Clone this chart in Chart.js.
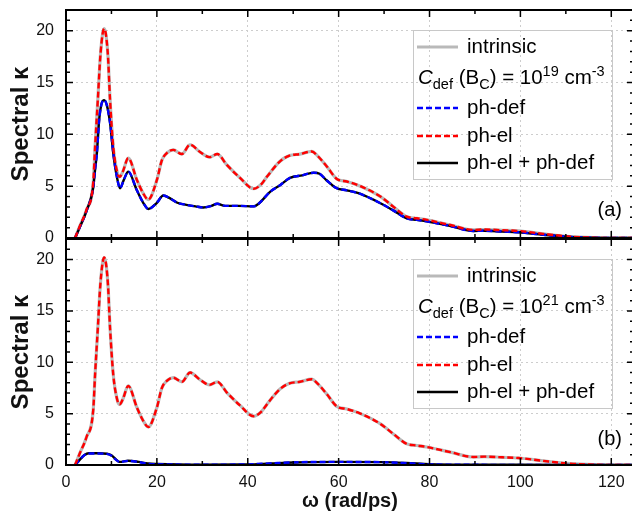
<!DOCTYPE html>
<html><head><meta charset="utf-8">
<script src="https://cdn.jsdelivr.net/npm/chart.js@4/dist/chart.umd.min.js"></script>
<style>
html,body{margin:0;padding:0;background:#fff;overflow:hidden;width:632px;height:517px;}
canvas{position:absolute;left:0;}
#a{top:0}
#b{top:239px}
</style></head><body>
<canvas id="a" width="640" height="252" style="width:640px;height:252px"></canvas>
<canvas id="b" width="640" height="278" style="width:640px;height:278px"></canvas>
<script>
// ---------- data ----------
const xTickValues = [0, 20, 40, 60, 80, 100, 120];
const yTickValues = [0, 5, 10, 15, 20];

// ph-el and intrinsic (identical in both panels)
const omegaEl = [2.0, 3.0, 4.5, 6.0, 6.4, 7.0, 7.6, 8.4, 9.2, 9.7, 10.4, 11.3, 11.8, 12.5, 13.7, 15.6, 17.0, 18.1, 20.0, 21.1, 22.2, 23.6, 25.5, 27.3, 29.5, 31.6, 33.3, 35.4, 38.3, 41.3, 43.0, 44.2, 47.1, 49.2, 51.5, 54.1, 55.2, 57.4, 59.6, 61.8, 64.8, 69.2, 72.1, 75.0, 77.2, 79.4, 84.6, 89.7, 92.0, 96.0, 99.6, 105.0, 111.0, 116.0, 120.0, 125.0];
const kIntrinsic = [0, 1.1, 2.7, 5.4, 8.8, 13.3, 17.8, 20.2, 17.8, 13.3, 8.8, 6.3, 5.9, 6.4, 7.7, 5.6, 4.3, 3.7, 5.6, 7.5, 8.2, 8.5, 8.1, 9.0, 8.3, 7.8, 8.1, 7.05, 5.8, 4.75, 5.2, 5.9, 7.4, 7.95, 8.1, 8.35, 8.0, 6.9, 5.7, 5.45, 5.0, 4.0, 3.0, 2.06, 1.9, 1.75, 1.25, 0.78, 0.82, 0.75, 0.68, 0.4, 0.13, 0.03, 0, 0];
const kPhEl = [0, 1.1, 2.7, 5.4, 8.8, 13.3, 17.8, 20.2, 17.8, 13.3, 8.8, 6.3, 5.9, 6.4, 7.7, 5.6, 4.3, 3.7, 5.6, 7.5, 8.2, 8.5, 8.1, 9.0, 8.3, 7.8, 8.1, 7.05, 5.8, 4.75, 5.2, 5.9, 7.4, 7.95, 8.1, 8.35, 8.0, 6.9, 5.7, 5.45, 5.0, 4.0, 3.0, 2.06, 1.9, 1.75, 1.25, 0.78, 0.82, 0.75, 0.68, 0.4, 0.13, 0.03, 0, 0];

// panel (a): C_def = 1e19
const omegaA = [2.0, 3.0, 4.5, 6.0, 6.4, 6.8, 7.3, 7.8, 8.4, 9.0, 9.7, 10.4, 11.2, 11.9, 12.8, 13.7, 15.6, 17.0, 18.1, 20.0, 21.4, 23.0, 24.5, 26.5, 28.5, 30.2, 32.0, 33.3, 35.0, 38.0, 41.3, 42.5, 44.9, 47.1, 49.3, 52.0, 54.5, 55.8, 57.4, 59.6, 61.8, 64.8, 69.2, 72.1, 75.0, 77.2, 79.4, 84.6, 89.7, 92.0, 96.0, 99.6, 105.0, 111.0, 116.0, 120.0, 125.0];
const kPhDefA = [0, 1.0, 2.6, 4.9, 6.6, 8.2, 11.4, 12.9, 13.3, 12.8, 11.1, 8.2, 5.9, 4.8, 5.7, 6.4, 4.6, 3.4, 2.8, 3.4, 4.1, 3.8, 3.4, 3.2, 3.05, 2.95, 3.1, 3.3, 3.1, 3.1, 3.05, 3.35, 4.45, 5.1, 5.8, 6.05, 6.3, 6.2, 5.55, 4.8, 4.6, 4.25, 3.35, 2.64, 1.9, 1.75, 1.6, 1.15, 0.68, 0.7, 0.62, 0.55, 0.32, 0.1, 0.02, 0, 0];
const kSumA = [0, 1.0, 2.6, 4.9, 6.6, 8.2, 11.4, 12.9, 13.3, 12.8, 11.1, 8.2, 5.9, 4.8, 5.7, 6.4, 4.6, 3.4, 2.8, 3.4, 4.1, 3.8, 3.4, 3.2, 3.05, 2.95, 3.1, 3.3, 3.1, 3.1, 3.05, 3.35, 4.45, 5.1, 5.8, 6.05, 6.3, 6.2, 5.55, 4.8, 4.6, 4.25, 3.35, 2.64, 1.9, 1.75, 1.6, 1.15, 0.68, 0.7, 0.62, 0.55, 0.32, 0.1, 0.02, 0, 0];

// panel (b): C_def = 1e21
const omegaB = [2.0, 3.0, 4.0, 5.0, 7.0, 9.0, 10.0, 11.0, 11.8, 13.7, 16.0, 18.0, 20.0, 30.0, 40.0, 45.0, 50.0, 60.0, 70.0, 75.0, 80.0, 90.0, 100.0, 125.0];
const kPhDefB = [0, 0.5, 0.95, 1.12, 1.12, 1.08, 0.9, 0.5, 0.3, 0.4, 0.28, 0.12, 0.08, 0.03, 0.06, 0.16, 0.26, 0.3, 0.27, 0.18, 0.06, 0.02, 0.01, 0];
const kSumB = [0, 0.5, 0.95, 1.15, 1.15, 1.1, 0.95, 0.55, 0.3, 0.42, 0.3, 0.15, 0.1, 0.03, 0.05, 0.15, 0.25, 0.3, 0.28, 0.2, 0.08, 0.03, 0.02, 0];

const seriesNames = ['intrinsic', 'ph-def', 'ph-el', 'ph-el + ph-def'];

// ---------- helpers ----------
const FAMILY = "'Liberation Sans', Arial, sans-serif";
const pts = (xs, ys) => xs.map((x, i) => ({x, y: ys[i]}));
const STYLE = {
  'intrinsic':      {color: '#b9b9b9', width: 3.2, dash: [], order: 3},
  'ph-def':         {color: '#0000ff', width: 2.4, dash: [6, 3], order: 1},
  'ph-el':          {color: '#ff0000', width: 2.4, dash: [6, 3], order: 0},
  'ph-el + ph-def': {color: '#000000', width: 2.4, dash: [], order: 2}
};
function ds(name, xs, ys) {
  const s = STYLE[name];
  return {label: name, data: pts(xs, ys), borderColor: s.color, borderWidth: s.width,
          borderDash: s.dash, order: s.order, pointRadius: 0, fill: false,
          cubicInterpolationMode: 'monotone'};
}

function drawRuns(ctx, x, y, runs) {
  for (const r of runs) {
    ctx.font = r.font;
    ctx.fillText(r.t, x, y + (r.dy || 0));
    x += ctx.measureText(r.t).width;
  }
}

const framePlugin = {
  id: 'frame',
  afterDatasetsDraw(chart, args, o) {
    const {ctx, chartArea: a} = chart;
    const xs = chart.scales.x, ys = chart.scales.y;
    ctx.save();
    // inward ticks
    ctx.strokeStyle = '#000';
    ctx.lineWidth = 1.5;
    ctx.setLineDash([]);
    ctx.beginPath();
    for (let v = 0; v <= xs.max; v += 10) {
      const px = xs.getPixelForValue(v);
      const len = v % 20 === 0 ? 7 : 4;
      ctx.moveTo(px, a.top); ctx.lineTo(px, a.top + len);
      ctx.moveTo(px, a.bottom); ctx.lineTo(px, a.bottom - len);
    }
    for (let v = 0; v <= ys.max; v += 1) {
      const py = ys.getPixelForValue(v);
      const len = v % 5 === 0 ? 7 : 4;
      ctx.moveTo(a.left, py); ctx.lineTo(a.left + len, py);
      ctx.moveTo(a.right, py); ctx.lineTo(a.right - len, py);
    }
    ctx.stroke();
    ctx.lineWidth = 2;
    ctx.strokeRect(a.left, a.top, a.right - a.left, a.bottom - a.top);

    // legend
    const L = a.left + 347, T = a.top + 20, W = 199, H = 149;
    ctx.lineWidth = 1;
    ctx.strokeStyle = '#c8c8c8';
    ctx.strokeRect(L + 0.5, T + 0.5, W, H);
    const rows = [17, 47, 78, 106, 133];
    const lx0 = L + 4, lx1 = L + 45, tx = L + 54;
    ctx.fillStyle = '#000';
    ctx.textBaseline = 'middle';
    ctx.textAlign = 'left';
    const item = (name, ry) => {
      const s = STYLE[name];
      ctx.strokeStyle = s.color; ctx.lineWidth = s.width; ctx.setLineDash(s.dash);
      ctx.beginPath(); ctx.moveTo(lx0, T + ry); ctx.lineTo(lx1, T + ry); ctx.stroke();
      ctx.setLineDash([]);
      ctx.font = '20.5px ' + FAMILY;
      ctx.fillText(name, tx, T + ry);
    };
    item(seriesNames[0], rows[0]);
    ctx.textBaseline = 'alphabetic';
    const big = '20.5px ' + FAMILY, small = '14.5px ' + FAMILY;
    drawRuns(ctx, L + 5, T + rows[1] + 7, [
      {t: 'C', font: 'italic ' + big},
      {t: 'def', font: small, dy: 5},
      {t: ' (B', font: big},
      {t: 'C', font: small, dy: 5},
      {t: ') = 10', font: big},
      {t: o.exp, font: small, dy: -8},
      {t: ' cm', font: big},
      {t: '-3', font: small, dy: -8}
    ]);
    ctx.textBaseline = 'middle';
    item(seriesNames[1], rows[2]);
    item(seriesNames[2], rows[3]);
    item(seriesNames[3], rows[4]);

    // panel tag
    ctx.font = '20px ' + FAMILY;
    ctx.textAlign = 'right';
    ctx.fillText(o.tag, a.right - 12, a.top + 200);
    ctx.restore();
  }
};

function makeChart(id, datasets, opt) {
  return new Chart(document.getElementById(id), {
    type: 'line',
    data: {datasets},
    options: {
      responsive: false, animation: false, devicePixelRatio: 1,
      layout: {padding: {top: opt.padTop, right: 6, left: 0, bottom: 0}},
      plugins: {legend: {display: false}, tooltip: {enabled: false},
                frame: {exp: opt.exp, tag: opt.tag}},
      scales: {
        x: {
          type: 'linear', min: 0, max: 125,
          afterBuildTicks: s => { s.ticks = xTickValues.map(v => ({value: v})); },
          afterFit: s => { s.height = opt.xHeight; s.paddingLeft = 0; s.paddingRight = 0; s.paddingTop = 0; s.paddingBottom = 0; },
          ticks: {display: opt.showX, color: '#111', padding: 8, maxRotation: 0,
                  font: {family: FAMILY, size: 16}},
          grid: {color: '#cdcdcd', drawTicks: false, lineWidth: 1},
          border: {display: false, dash: [2, 3]},
          title: {display: opt.showX, text: 'ω (rad/ps)', color: '#111',
                  font: {family: FAMILY, size: 20, weight: 'bold'},
                  padding: {top: 0, bottom: 4}}
        },
        y: {
          type: 'linear', min: 0, max: 22,
          afterBuildTicks: s => { s.ticks = yTickValues.map(v => ({value: v})); },
          afterFit: s => { s.width = 66; s.paddingTop = 0; s.paddingBottom = 0; s.paddingLeft = 0; s.paddingRight = 0; },
          ticks: {color: '#111', padding: 12, font: {family: FAMILY, size: 16}},
          grid: {color: '#cdcdcd', drawTicks: false, lineWidth: 1},
          border: {display: false, dash: [2, 3]},
          title: {display: true, text: 'Spectral κ', color: '#111',
                  font: {family: FAMILY, size: 24, weight: 'bold'},
                  padding: {top: 7, bottom: 0}}
        }
      }
    },
    plugins: [framePlugin]
  });
}

makeChart('a', [
  ds('intrinsic', omegaEl, kIntrinsic),
  ds('ph-def', omegaA, kPhDefA),
  ds('ph-el', omegaEl, kPhEl),
  ds('ph-el + ph-def', omegaA, kSumA)
], {padTop: 10, xHeight: 14, showX: false, exp: '19', tag: '(a)'});

makeChart('b', [
  ds('intrinsic', omegaEl, kIntrinsic),
  ds('ph-def', omegaB, kPhDefB),
  ds('ph-el', omegaEl, kPhEl),
  ds('ph-el + ph-def', omegaB, kSumB)
], {padTop: 0, xHeight: 52, showX: true, exp: '21', tag: '(b)'});
</script>
</body></html>
